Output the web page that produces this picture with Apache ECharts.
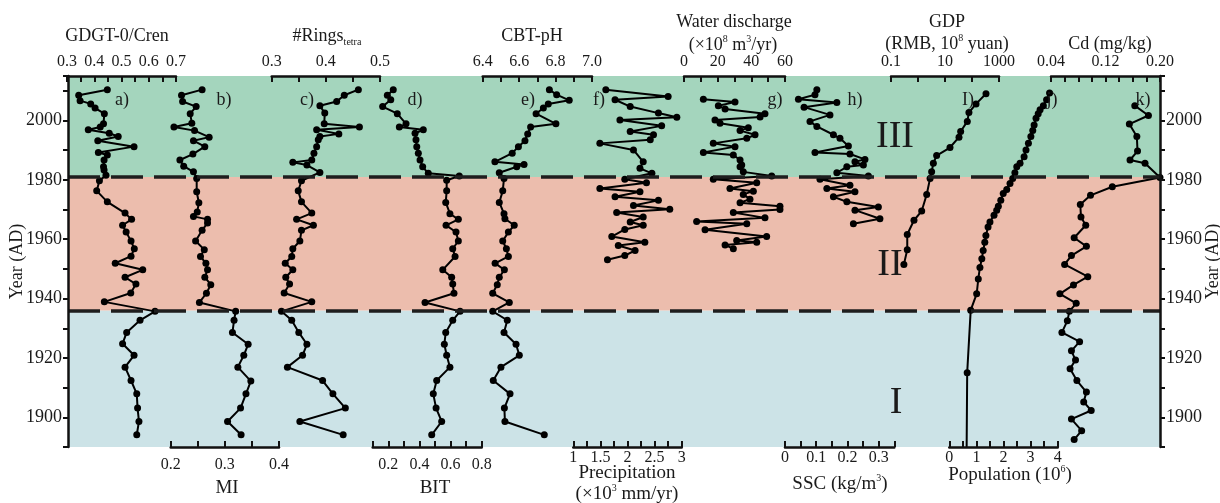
<!DOCTYPE html>
<html><head><meta charset="utf-8">
<script src="https://cdn.jsdelivr.net/npm/echarts@6/dist/echarts.min.js"></script>
<style>html,body{margin:0;padding:0;background:#fff}#c{width:1220px;height:503px}</style>
</head><body><div id="c"></div>
<script>
// ---------------- DATA ----------------
const yearTicks = ['1900','1920','1940','1960','1980','2000'];
const zoneBounds = [1890, 1936, 1981, 2015];
const zoneNames = ['I','II','III'];

const gdgtYears = [2010.4,2008.5,2006.7,2005.6,2004.2,2002.3,1998.9,1997.8,1996.9,1995.7,1994.6,1993.2,1991.2,1989.2,1988.4,1986.7,1984.4,1983.3,1981.6,1979.7,1976.3,1972.6,1968.8,1966.7,1964.7,1962.4,1959.4,1956.8,1954.3,1951.9,1949.7,1947.2,1944.9,1941.9,1938.9,1935.7,1932.7,1928.6,1924.8,1920.9,1916.9,1912.4,1907.9,1903.1,1898.6,1894.1];
const gdgtVals  = [0.448,0.343,0.348,0.387,0.403,0.437,0.434,0.422,0.378,0.455,0.488,0.413,0.546,0.415,0.448,0.436,0.434,0.436,0.443,0.419,0.409,0.448,0.513,0.537,0.504,0.517,0.535,0.547,0.535,0.477,0.578,0.513,0.553,0.534,0.437,0.623,0.568,0.519,0.504,0.546,0.513,0.535,0.556,0.559,0.564,0.556];
const gdgtTicks = ['0.3','0.4','0.5','0.6','0.7'];

const miYears = [2010.4,2008.5,2006.4,2004.7,2002.3,1999.1,1997.8,1996.6,1994.4,1993.2,1991.2,1988.7,1986.7,1984.6,1982.7,1980.5,1976.0,1972.3,1969.2,1967.7,1966.7,1965.5,1963.0,1959.4,1956.5,1954.2,1951.9,1949.7,1947.2,1944.7,1941.8,1938.7,1935.7,1932.7,1928.6,1924.6,1920.9,1916.9,1912.2,1907.9,1903.1,1898.6,1894.1];
const miVals  = [0.258,0.220,0.222,0.247,0.236,0.239,0.206,0.244,0.271,0.242,0.263,0.241,0.217,0.224,0.242,0.248,0.248,0.252,0.249,0.242,0.268,0.268,0.258,0.246,0.262,0.255,0.265,0.268,0.263,0.274,0.266,0.253,0.320,0.317,0.314,0.343,0.335,0.324,0.348,0.339,0.329,0.305,0.330];
const miTicks = ['0.2','0.3','0.4'];

const ringsYears = [2010.4,2008.5,2006.4,2005.0,2002.5,1998.9,1997.8,1996.9,1995.5,1994.6,1993.5,1991.2,1989.0,1986.7,1985.9,1985.0,1982.5,1979.7,1976.3,1972.6,1968.8,1966.7,1964.7,1963.0,1959.4,1956.8,1954.2,1951.9,1949.7,1947.2,1944.9,1941.9,1938.9,1935.7,1932.7,1928.6,1924.6,1920.9,1916.9,1912.4,1907.9,1903.1,1898.6,1894.1];
const ringsVals  = [0.460,0.434,0.420,0.389,0.398,0.397,0.462,0.383,0.424,0.389,0.386,0.383,0.378,0.374,0.339,0.365,0.389,0.355,0.349,0.355,0.374,0.346,0.377,0.355,0.352,0.339,0.337,0.325,0.339,0.326,0.333,0.323,0.374,0.318,0.337,0.350,0.365,0.357,0.329,0.394,0.413,0.436,0.352,0.432];
const ringsTicks = ['0.3','0.4','0.5'];

const bitYears = [2010.4,2008.5,2007.0,2004.7,2002.3,1998.9,1997.8,1996.9,1995.7,1993.5,1991.2,1989.0,1986.7,1984.4,1982.2,1981.3,1979.9,1976.3,1972.4,1968.6,1966.7,1964.7,1962.4,1959.4,1956.8,1954.2,1949.7,1947.2,1944.9,1941.8,1938.7,1935.7,1932.7,1928.6,1924.6,1920.9,1916.9,1912.4,1907.9,1903.1,1898.6,1894.1];
const bitVals  = [0.232,0.194,0.216,0.164,0.258,0.314,0.271,0.425,0.372,0.378,0.383,0.393,0.404,0.421,0.457,0.656,0.575,0.575,0.569,0.596,0.650,0.571,0.635,0.650,0.614,0.629,0.550,0.607,0.614,0.622,0.436,0.661,0.614,0.569,0.560,0.575,0.596,0.511,0.489,0.507,0.543,0.479];
const bitTicks = ['0.2','0.4','0.6','0.8'];

const cbtYears = [2010.4,2008.7,2006.8,2005.6,2004.2,2002.3,1998.9,1997.8,1995.5,1993.2,1991.2,1989.0,1986.1,1985.2,1984.4,1982.4,1980.5,1976.3,1972.4,1968.6,1966.9,1964.7,1962.4,1959.4,1956.8,1954.2,1951.9,1949.7,1947.2,1944.7,1941.8,1938.7,1935.7,1932.7,1928.6,1924.6,1920.9,1916.9,1912.4,1907.9,1903.1,1898.6,1894.1];
const cbtVals  = [6.766,6.806,6.875,6.760,6.733,6.693,6.802,6.663,6.647,6.632,6.596,6.562,6.467,6.627,6.587,6.491,6.517,6.510,6.491,6.517,6.522,6.573,6.541,6.510,6.530,6.541,6.468,6.519,6.491,6.480,6.455,6.546,6.455,6.535,6.517,6.583,6.601,6.500,6.458,6.550,6.519,6.522,6.738];
const cbtTicks = ['6.4','6.6','6.8','7.0'];

const precYears = [2010.4,2008.1,2007.0,2004.7,2002.5,2001.1,2000.2,1998.2,1996.3,1995.2,1993.5,1992.3,1990.1,1986.1,1983.9,1982.2,1980.2,1979.0,1977.1,1976.0,1974.3,1973.1,1971.4,1970.1,1969.0,1967.5,1965.8,1964.7,1963.3,1960.9,1959.0,1957.9,1956.2,1954.5,1953.1];
const precVals  = [1.60,2.75,1.77,2.05,2.57,2.91,1.86,2.63,2.05,2.48,2.42,1.49,2.11,2.29,2.23,2.45,1.95,2.35,1.49,2.23,1.77,2.57,2.11,2.78,1.80,2.29,2.05,2.29,1.95,1.71,2.32,1.83,2.14,1.95,1.63];
const precTicks = ['1','1.5','2','2.5','3'];

const wdYears = [2007.2,2006.2,2005.0,2003.9,2002.3,2001.2,2000.2,1999.1,1997.6,1996.6,1995.2,1994.0,1992.3,1991.2,1989.2,1988.4,1986.7,1985.0,1984.4,1982.7,1981.3,1980.2,1979.0,1977.1,1976.2,1975.1,1973.5,1972.3,1971.1,1970.0,1969.0,1967.2,1966.0,1965.2,1963.2,1960.9,1959.6,1959.0,1958.1,1956.8];
const wdVals  = [11.5,30.3,20.4,24.4,48.1,45.2,18.4,21.4,38.2,33.3,42.2,37.3,17.4,30.3,11.5,29.3,33.3,34.3,33.3,35.2,52.1,17.4,43.2,27.3,41.2,35.2,39.2,33.3,57.0,57.0,29.3,48.1,7.5,37.3,12.5,49.1,31.3,43.2,24.4,29.3];
const wdTicks = ['0','20','40','60'];

const sscYears = [2010.4,2008.7,2007.2,2006.1,2004.5,2001.9,1999.7,1998.0,1995.2,1994.0,1991.4,1989.2,1988.7,1986.9,1986.1,1985.0,1984.4,1982.4,1981.3,1980.2,1978.2,1977.1,1976.0,1974.3,1972.6,1970.9,1969.8,1966.9,1965.2];
const sscVals  = [0.102,0.096,0.043,0.166,0.061,0.144,0.080,0.102,0.155,0.176,0.203,0.096,0.208,0.256,0.224,0.251,0.198,0.166,0.267,0.112,0.208,0.134,0.224,0.155,0.198,0.299,0.224,0.304,0.219];
const sscTicks = ['0','0.1','0.2','0.3'];

const gdpYears = [2009.0,2005.6,2002.7,1999.7,1996.3,1994.4,1990.9,1988.2,1985.6,1982.7,1980.5,1975.1,1969.5,1966.4,1961.6,1956.5,1951.5];
const gdpVals  = [330,141,77,67,38,33,15.3,4.9,3.7,3.2,2.8,2.1,1.37,0.71,0.40,0.40,0.30];
const gdpTicks = ['0.1','10','1000'];

const popYears = [2009.3,2007.0,2005.0,2003.6,2002.3,2000.8,1998.5,1996.6,1994.6,1992.3,1990.1,1987.8,1985.6,1984.4,1982.4,1980.5,1978.8,1976.8,1975.4,1973.1,1971.1,1969.8,1968.1,1965.8,1964.1,1961.3,1959.0,1956.2,1953.4,1950.5,1946.6,1941.6,1936.1,1915.0,1890.0];
const popVals  = [3.70,3.59,3.47,3.35,3.28,3.20,3.13,3.08,3.01,2.92,2.83,2.76,2.61,2.49,2.42,2.34,2.24,2.12,1.99,1.90,1.81,1.75,1.65,1.50,1.43,1.35,1.31,1.25,1.20,1.13,1.07,1.01,0.79,0.66,0.64];
const popTicks = ['0','1','2','3','4'];

const cdYears = [2005.0,2001.7,1998.8,1994.6,1989.7,1986.7,1985.6,1980.8,1977.7,1974.8,1971.7,1967.5,1964.7,1960.5,1957.6,1954.5,1951.5,1947.4,1944.6,1941.6,1938.4,1935.7,1932.5,1928.6,1925.5,1922.4,1919.3,1916.4,1912.4,1908.5,1905.2,1902.3,1899.4,1895.5,1892.5];
const cdVals  = [0.163,0.183,0.155,0.166,0.167,0.156,0.178,0.200,0.130,0.098,0.083,0.084,0.091,0.074,0.092,0.070,0.060,0.094,0.073,0.053,0.077,0.067,0.064,0.056,0.082,0.070,0.076,0.068,0.078,0.092,0.088,0.099,0.070,0.085,0.074];
const cdTicks = ['0.04','0.12','0.20'];

// ---------------- LAYOUT ----------------
const FONT = 'Liberation Serif';
const TXT = '#1a1a1a';
const PLOT_TOP = 76, PLOT_BOTTOM = 447, PLOT_LEFT = 68, PLOT_RIGHT = 1160;

const panels = [
  {x0:67,    x1:176,   pos:'top',    min:0.3,  max:0.7,  interval:0.05, ticks:gdgtTicks, ys:gdgtYears, vs:gdgtVals, margin:6},
  {x0:170.7, x1:279,   pos:'bottom', min:0.2,  max:0.4,  interval:0.05, ticks:miTicks,   ys:miYears,   vs:miVals, margin:10},
  {x0:271.7, x1:380,   pos:'top',    min:0.3,  max:0.5,  interval:0.05, ticks:ringsTicks,ys:ringsYears,vs:ringsVals, margin:6},
  {x0:372.7, x1:481.7, pos:'bottom', min:0.1,  max:0.8,  interval:0.1,  ticks:bitTicks,  ys:bitYears,  vs:bitVals, margin:10},
  {x0:482.7, x1:592,   pos:'top',    min:6.4,  max:7.0,  interval:0.1,  ticks:cbtTicks,  ys:cbtYears,  vs:cbtVals, margin:6},
  {x0:573.3, x1:681.7, pos:'bottom', min:1,    max:3,    interval:0.25, ticks:precTicks, ys:precYears, vs:precVals, margin:3},
  {x0:684,   x1:785,   pos:'top',    min:0,    max:60,   interval:10,   ticks:wdTicks,   ys:wdYears,   vs:wdVals, margin:6},
  {x0:785,   x1:894.3, pos:'bottom', min:0,    max:0.35, interval:0.05, ticks:sscTicks,  ys:sscYears,  vs:sscVals, margin:3},
  {x0:891,   x1:999,   pos:'top',    min:0.1,  max:1000, log:true,      ticks:gdpTicks,  ys:gdpYears,  vs:gdpVals, margin:6},
  {x0:949.3, x1:1057.7,pos:'bottom', min:0,    max:4,    interval:0.5,  ticks:popTicks,  ys:popYears,  vs:popVals, margin:3},
  {x0:1051,  x1:1160,  pos:'top',    min:0.04, max:0.20, interval:0.02, ticks:cdTicks,   ys:cdYears,   vs:cdVals, margin:6}
];

function labelFmt(list){
  return function(v){
    const t = list.find(s => Math.abs(parseFloat(s) - v) <= 1e-6 * Math.max(1, Math.abs(v)));
    return t === undefined ? '' : t;
  };
}

const gridBase = {containLabel:false, outerBoundsMode:'none'};
const grids = [Object.assign({left:PLOT_LEFT, top:PLOT_TOP, width:PLOT_RIGHT-PLOT_LEFT, height:PLOT_BOTTOM-PLOT_TOP}, gridBase)];
const xAxes = [{gridIndex:0, type:'value', min:0, max:1, show:false}];
const yBase = {type:'value', min:zoneBounds[0], max:zoneBounds[3], interval:10, z:6,
  axisLine:{show:true, lineStyle:{color:'#111', width:2.5}},
  axisTick:{show:true, inside:false, length:5, lineStyle:{color:'#111', width:2}},
  splitLine:{show:false},
  axisLabel:{formatter:labelFmt(yearTicks), fontFamily:FONT, fontSize:18, color:TXT, margin:6},
  name:'Year (AD)', nameLocation:'middle', nameRotate:90, nameMoveOverlap:false,
  nameTextStyle:{fontFamily:FONT, fontSize:18, color:TXT}};
const yAxes = [
  Object.assign({}, yBase, {gridIndex:0, position:'left', nameGap:42}),
  Object.assign({}, yBase, {gridIndex:0, position:'right', nameGap:44})
];

const series = [{
  type:'line', xAxisIndex:0, yAxisIndex:0, data:[[0.5, 1900]], showSymbol:false, silent:true, z:1,
  lineStyle:{opacity:0},
  markArea:{silent:true, data:[
    [{yAxis:zoneBounds[0], itemStyle:{color:'#cce3e7'}},{yAxis:zoneBounds[1]}],
    [{yAxis:zoneBounds[1], itemStyle:{color:'#ecbdad'}},{yAxis:zoneBounds[2]}],
    [{yAxis:zoneBounds[2], itemStyle:{color:'#a4d5bd'}},{yAxis:zoneBounds[3]}]
  ]},
  markLine:{silent:true, symbol:['none','none'], label:{show:false},
    lineStyle:{color:'#1e1e1e', width:3.5, type:[32,11]},
    data:[{yAxis:zoneBounds[1]},{yAxis:zoneBounds[2]}]}
}];

panels.forEach((p, i) => {
  const gi = i + 1;
  grids.push(Object.assign({left:p.x0, top:PLOT_TOP, width:p.x1 - p.x0, height:PLOT_BOTTOM-PLOT_TOP}, gridBase));
  const ax = {gridIndex:gi, position:p.pos, min:p.min, max:p.max, z:6,
    axisLine:{show:true, onZero:false, lineStyle:{color:'#111', width:2.5}},
    axisTick:{show:true, inside:true, length:6, lineStyle:{color:'#111', width:2}},
    splitLine:{show:false},
    axisLabel:{formatter:labelFmt(p.ticks), fontFamily:FONT, fontSize:16, color:TXT, margin:p.margin}};
  if (p.log) { ax.type = 'log'; ax.logBase = 10; }
  else { ax.type = 'value'; ax.interval = p.interval; }
  xAxes.push(ax);
  yAxes.push({gridIndex:gi, type:'value', min:zoneBounds[0], max:zoneBounds[3], show:false});
  series.push({type:'line', xAxisIndex:gi, yAxisIndex:gi+1, z:4, clip:false,
    data:p.ys.map((y, k) => [p.vs[k], y]),
    symbol:'circle', symbolSize:7, showSymbol:true,
    itemStyle:{color:'#000'}, lineStyle:{color:'#000', width:2}});
});
// the last population point only carries the line to the bottom edge: no marker
{
  const d = series[10].data;
  d[d.length-1] = {value:d[d.length-1], symbolSize:0};
}

function txt(x, y, text, size){
  return {type:'text', x:x, y:y, silent:true, z:20, style:{
    text:text, fontFamily:FONT, fontSize:size, fill:TXT,
    align:'center', verticalAlign:'middle', textAlign:'center', textVerticalAlign:'middle',
    rich:{
      sup:{fontFamily:FONT, fontSize:10, fill:TXT, verticalAlign:'top', lineHeight:22},
      sub:{fontFamily:FONT, fontSize:10, fill:TXT, verticalAlign:'bottom', lineHeight:22},
      n:{fontFamily:FONT, fontSize:size, fill:TXT, lineHeight:22}
    }}};
}

const graphics = [
  txt(117, 36, 'GDGT-0/Cren', 18),
  txt(327, 36, '{n|#Rings}{sub|tetra}', 18),
  txt(532, 36, 'CBT-pH', 18),
  txt(734, 22, 'Water discharge', 18),
  txt(733, 45, '{n|(×10}{sup|8}{n| m}{sup|3}{n|/yr)}', 18),
  txt(947, 22, 'GDP', 18),
  txt(947, 44, '{n|(RMB, 10}{sup|8}{n| yuan)}', 18),
  txt(1110, 44, 'Cd (mg/kg)', 18),
  txt(227, 488, 'MI', 19),
  txt(435, 488, 'BIT', 19),
  txt(627, 473, 'Precipitation', 19),
  txt(627, 494, '{n|(×10}{sup|3}{n| mm/yr)}', 19),
  txt(840, 484, '{n|SSC (kg/m}{sup|3}{n|)}', 19),
  txt(1010, 475, '{n|Population (10}{sup|6}{n|)}', 19),
  txt(122, 100, 'a)', 18), txt(224, 100, 'b)', 18), txt(307, 100, 'c)', 18),
  txt(415, 100, 'd)', 18), txt(528, 100, 'e)', 18), txt(599, 100, 'f)', 18),
  txt(775, 100, 'g)', 18), txt(855, 100, 'h)', 18), txt(968, 100, 'I)', 18),
  txt(1052, 100, 'j)', 18), txt(1143, 100, 'k)', 18),
  txt(895, 137, zoneNames[2], 38), txt(890, 265, zoneNames[1], 38), txt(896, 403, zoneNames[0], 38)
];

const chart = echarts.init(document.getElementById('c'), null, {renderer:'canvas'});
chart.setOption({
  animation:false,
  backgroundColor:'#ffffff',
  grid:grids, xAxis:xAxes, yAxis:yAxes, series:series, graphic:graphics
});
</script></body></html>
